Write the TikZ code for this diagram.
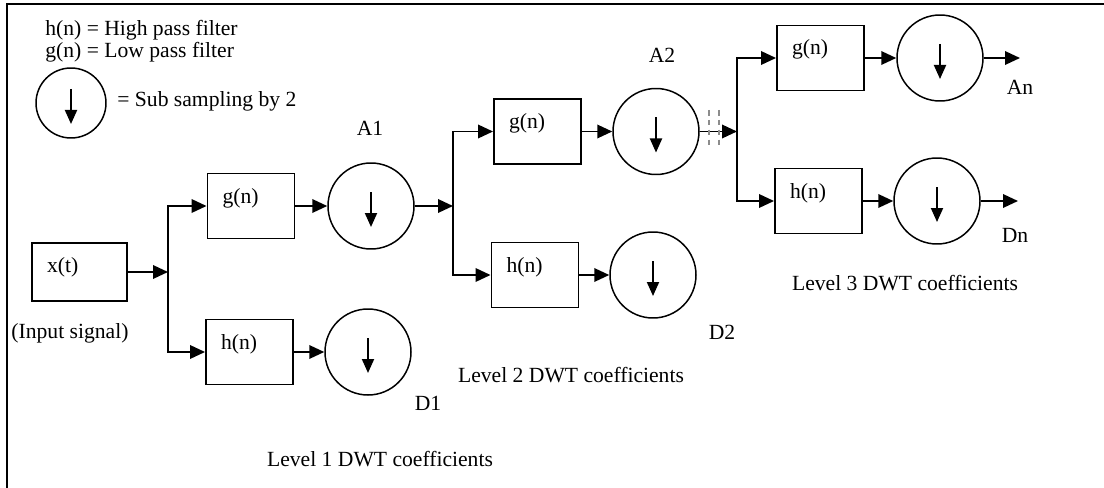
\documentclass[tikz,border=0pt]{standalone}
\usepackage{fontspec}
\setmainfont{Liberation Serif}
\usepackage{tikz}
\usetikzlibrary{arrows.meta, calc}
\definecolor{dwtbreak}{HTML}{8C8C8C}
\newcommand{\DwtFigureFont}{\fontsize{12.3}{14}\selectfont}
\tikzset{
  dwt arrow/.style={
    -{Triangle[length=3mm,width=2.7mm]},
    line width=1.1pt
  },
  dwt filter box/.style={
    draw,
    line width=1.1pt,
    minimum width=1.74cm,
    minimum height=1.30cm,
    text width=1.14cm,
    inner xsep=0.30cm,
    inner ysep=0pt,
    align=left,
    text height=0.30cm,
    text depth=0.42cm,
    font=\DwtFigureFont
  },
  dwt input box/.style={dwt filter box, minimum width=1.90cm,
    minimum height=1.16cm, text width=1.30cm, text depth=0.30cm},
  dwt sampler/.style={
    circle,
    draw,
    line width=0.85pt,
    minimum size=1.72cm,
    inner sep=0pt,
    path picture={
      \draw[-{Triangle[length=2.8mm,width=2.4mm]}, line width=1.1pt]
        ($(path picture bounding box.center)+(0,0.28)$) --
        ($(path picture bounding box.center)+(0,-0.42)$);
    }
  },
  dwt legend sampler/.style={dwt sampler, minimum size=1.40cm},
  dwt text/.style={font=\DwtFigureFont, inner sep=0pt},
  dwt note/.style={dwt text, anchor=west},
  dwt break/.style={draw=dwtbreak, line width=1.2pt, dash pattern=on 3.2pt off 2.4pt}
}

\begin{document}
\begin{tikzpicture}[x=1cm,y=1cm]
\useasboundingbox (0,0) rectangle (22.08,-9.76);
\draw[line width=1.7pt] (0.14,-9.76) -- (0.14,-0.08) -- (22.08,-0.08);

% legend
\node[dwt note] (legend h) at (0.90,-0.60) {h(n) = High pass filter};
\node[dwt note] (legend g) at (0.90,-1.04) {g(n) = Low pass filter};
\node[dwt legend sampler] (legend ds) at (1.42,-2.06) {};
\node[dwt note] (legend sub) at (2.34,-2.02) {= Sub sampling by 2};

% input
\node[dwt input box] (xt) at (1.59,-5.44) {x(t)};
\node[dwt text] (xt note) at (1.40,-6.66) {(Input signal)};
\coordinate (s1) at (3.36,-5.44);

% level 1
\node[dwt filter box] (g1) at (5.02,-4.12) {g(n)};
\node[dwt filter box] (h1) at (4.99,-7.04) {h(n)};
\node[dwt sampler] (c1) at (7.42,-4.12) {};
\node[dwt sampler] (d1) at (7.36,-7.04) {};
\node[dwt text] (a1) at (7.40,-2.56) {A1};
\node[dwt text] (d1 tag) at (8.56,-8.06) {D1};
\node[dwt text] (lvl1) at (7.60,-9.18) {Level 1 DWT coefficients};
\coordinate (s2) at (9.06,-4.12);

% level 2
\node[dwt filter box] (g2) at (10.75,-2.63) {g(n)};
\node[dwt filter box] (h2) at (10.70,-5.50) {h(n)};
\node[dwt sampler] (c2) at (13.12,-2.63) {};
\node[dwt sampler] (d2) at (13.06,-5.50) {};
\node[dwt text] (a2) at (13.24,-1.10) {A2};
\node[dwt text] (d2 tag) at (14.44,-6.64) {D2};
\node[dwt text] (lvl2) at (11.42,-7.50) {Level 2 DWT coefficients};
\coordinate (s3) at (14.74,-2.63);

% level 3
\node[dwt filter box] (g3) at (16.41,-1.16) {g(n)};
\node[dwt filter box] (h3) at (16.37,-4.02) {h(n)};
\node[dwt sampler] (c3) at (18.80,-1.16) {};
\node[dwt sampler] (d3) at (18.74,-4.02) {};
\coordinate (an end) at (20.40,-1.16);
\coordinate (dn end) at (20.36,-4.02);
\node[dwt text] (an) at (20.40,-1.74) {An};
\node[dwt text] (dn) at (20.30,-4.70) {Dn};
\node[dwt text] (lvl3) at (18.10,-5.66) {Level 3 DWT coefficients};

\draw[dwt arrow] (xt.east) -- (s1);
\draw[dwt arrow] (s1) |- (g1.west);
\draw[dwt arrow] (s1) |- (h1.west);
\draw[dwt arrow] (g1.east) -- (c1.west);
\draw[dwt arrow] (h1.east) -- (d1.west);
\draw[dwt arrow] (c1.east) -- (s2);
\draw[dwt arrow] (s2) |- (g2.west);
\draw[dwt arrow] (s2) |- (h2.west);
\draw[dwt arrow] (g2.east) -- (c2.west);
\draw[dwt arrow] (h2.east) -- (d2.west);
\draw[dwt arrow] (c2.east) -- (s3);
\draw[dwt arrow] (s3) |- (g3.west);
\draw[dwt arrow] (s3) |- (h3.west);
\draw[dwt arrow] (g3.east) -- (c3.west);
\draw[dwt arrow] (h3.east) -- (d3.west);
\draw[dwt arrow] (c3.east) -- (an end);
\draw[dwt arrow] (d3.east) -- (dn end);

% break marks
\draw[dwt break] (14.18,-2.20) -- (14.18,-2.92);
\draw[dwt break] (14.38,-2.20) -- (14.38,-2.92);
\end{tikzpicture}
\end{document}
